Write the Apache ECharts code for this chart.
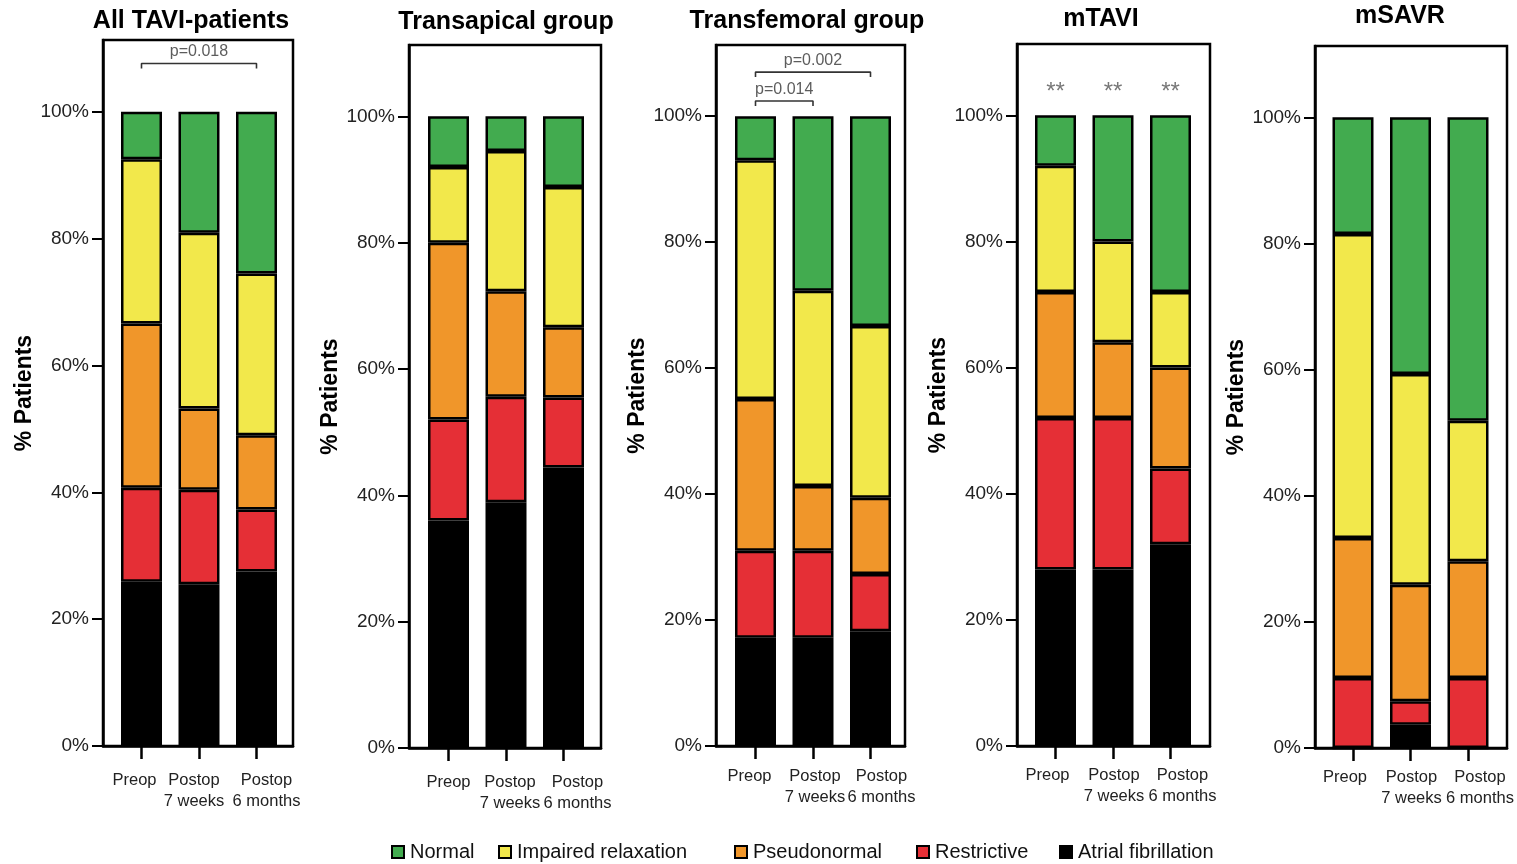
<!DOCTYPE html>
<html>
<head>
<meta charset="utf-8">
<title>Diastolic function grades</title>
<script src="https://cdn.jsdelivr.net/npm/echarts@6/dist/echarts.min.js"></script>
<style>
  html, body { margin: 0; padding: 0; background: #fff; }
  #chart { width: 1517px; height: 864px; }
</style>
</head>
<body>
<div id="chart"></div>
<script>
// Time points on each panel's x axis
const categories = ['Preop', 'Postop\n7 weeks', 'Postop\n6 months'];
// Diastolic function grades, stacked bottom to top
const statusNames = ['Atrial fibrillation', 'Restrictive', 'Pseudonormal', 'Impaired relaxation', 'Normal'];
const legendOrder = ['Normal', 'Impaired relaxation', 'Pseudonormal', 'Restrictive', 'Atrial fibrillation'];
const statusColors = ['#000000', '#e52f36', '#f0962a', '#f2e84b', '#42ab4f'];
const panelTitles = ['All TAVI-patients', 'Transapical group', 'Transfemoral group', 'mTAVI', 'mSAVR'];
const yTickValues = [0, 20, 40, 60, 80, 100];

// % of patients per grade (Preop, 7 weeks, 6 months)
const allTaviAF = [25.9, 25.5, 27.5];
const allTaviRestrictive = [14.8, 14.9, 9.8];
const allTaviPseudonormal = [25.9, 12.8, 11.7];
const allTaviImpaired = [25.9, 27.7, 25.5];
const allTaviNormal = [7.5, 19.1, 25.5];

const transapicalAF = [36.0, 38.9, 44.4];
const transapicalRestrictive = [16.0, 16.7, 11.1];
const transapicalPseudonormal = [28.0, 16.7, 11.1];
const transapicalImpaired = [12.0, 22.2, 22.2];
const transapicalNormal = [8.0, 5.5, 11.2];

const transfemoralAF = [17.2, 17.2, 18.2];
const transfemoralRestrictive = [13.8, 13.8, 9.1];
const transfemoralPseudonormal = [24.1, 10.3, 12.1];
const transfemoralImpaired = [37.9, 31.0, 27.3];
const transfemoralNormal = [7.0, 27.7, 33.3];

const mTaviAF = [28, 28, 32];
const mTaviRestrictive = [24, 24, 12];
const mTaviPseudonormal = [20, 12, 16];
const mTaviImpaired = [20, 16, 12];
const mTaviNormal = [8, 20, 28];

const mSavrAF = [0, 3.7, 0];
const mSavrRestrictive = [11.1, 3.7, 11.1];
const mSavrPseudonormal = [22.2, 18.5, 18.5];
const mSavrImpaired = [48.2, 33.4, 22.3];
const mSavrNormal = [18.5, 40.7, 48.1];

const panelValues = [
  [allTaviAF, allTaviRestrictive, allTaviPseudonormal, allTaviImpaired, allTaviNormal],
  [transapicalAF, transapicalRestrictive, transapicalPseudonormal, transapicalImpaired, transapicalNormal],
  [transfemoralAF, transfemoralRestrictive, transfemoralPseudonormal, transfemoralImpaired, transfemoralNormal],
  [mTaviAF, mTaviRestrictive, mTaviPseudonormal, mTaviImpaired, mTaviNormal],
  [mSavrAF, mSavrRestrictive, mSavrPseudonormal, mSavrImpaired, mSavrNormal]
];

// Significance brackets: panel, from category, to category, bracket height (%), label
const bracketPanels = [0, 2, 2];
const bracketFrom = [0, 0, 0];
const bracketTo = [2, 2, 1];
const bracketLevels = [107.6, 107.0, 102.4];
const bracketLabels = ['p=0.018', 'p=0.002', 'p=0.014'];
// Significance stars above each mTAVI bar
const starLabels = ['**', '**', '**'];

// Panel geometry: outer frame, band of the first bar, label nudges
const layout = [
  { left: 103,  top: 40, width: 190, height: 706, barLeft: 112.75,  titleX: 191,  titleY: 21, nameGap: 61, labelMargin: 24, labelShift: [-7, -5, 10] },
  { left: 409,  top: 45, width: 192, height: 703, barLeft: 419.75,  titleX: 506,  titleY: 22, nameGap: 54, labelMargin: 24, labelShift: [0, 4, 14] },
  { left: 716,  top: 45, width: 189, height: 701, barLeft: 726.75,  titleX: 807,  titleY: 21, nameGap: 65, labelMargin: 20, labelShift: [-6, 2, 11] },
  { left: 1017, top: 44, width: 193, height: 702, barLeft: 1026.75, titleX: 1101, titleY: 19, nameGap: 66, labelMargin: 19, labelShift: [-8, 1, 12] },
  { left: 1315, top: 46, width: 192, height: 702, barLeft: 1324.25, titleX: 1400, titleY: 16, nameGap: 56, labelMargin: 19, labelShift: [-8, 1, 12] }
];
const BAND = 57.5;
const legendLefts = [386, 493, 729, 911, 1054];

const FONT = '"Liberation Sans", Arial, sans-serif';
const Y_MAX = 111.3;

const grids = [], xAxes = [], yAxes = [], series = [], graphics = [];

layout.forEach((L, i) => {
  const frameIdx = 2 * i;      // framed grid: y axis, bottom line, annotations
  const barIdx = 2 * i + 1;    // inner grid: category axis and stacked bars

  grids.push({
    left: L.left, top: L.top, width: L.width, height: L.height,
    show: true, borderColor: '#000', borderWidth: 2.5, backgroundColor: 'transparent'
  });
  grids.push({
    left: L.barLeft, top: L.top, width: BAND * 3, height: L.height, show: false
  });

  // Frame x axis measured in category units, so annotations line up with bars
  const firstCenter = L.barLeft + BAND / 2;
  const xMin = -(firstCenter - L.left) / BAND;
  const xMax = 2 + (L.left + L.width - (firstCenter + 2 * BAND)) / BAND;
  xAxes.push({
    type: 'value', gridIndex: frameIdx, min: xMin, max: xMax,
    axisLine: { show: true, onZero: false, lineStyle: { color: '#000', width: 2.5 } },
    axisTick: { show: false }, axisLabel: { show: false }, splitLine: { show: false }
  });
  xAxes.push({
    type: 'category', gridIndex: barIdx,
    data: categories.map((c, k) => {
      const s = L.labelShift[k];
      return { value: c, textStyle: { padding: s >= 0 ? [0, 0, 0, 2 * s] : [0, -2 * s, 0, 0] } };
    }),
    axisLine: { show: false, onZero: false },
    axisTick: { show: true, alignWithLabel: true, length: 13, lineStyle: { color: '#000', width: 2.5 } },
    axisLabel: {
      interval: 0, margin: L.labelMargin, fontSize: 16.5, lineHeight: 21,
      color: '#222', fontFamily: FONT
    },
    splitLine: { show: false }
  });

  yAxes.push({
    type: 'value', gridIndex: frameIdx, min: 0, max: Y_MAX,
    axisLine: { show: true, onZero: false, lineStyle: { color: '#000', width: 2.5 } },
    axisTick: { show: true, customValues: yTickValues, length: 11, lineStyle: { color: '#000', width: 2 } },
    axisLabel: {
      customValues: yTickValues, margin: 14, fontSize: 19, color: '#222', fontFamily: FONT,
      formatter: v => Math.round(v) + '%'
    },
    splitLine: { show: false },
    name: '% Patients', nameLocation: 'middle', nameRotate: 90, nameGap: L.nameGap,
    nameTextStyle: { fontFamily: FONT, fontWeight: 'bold', fontSize: 23, color: '#000' }
  });
  yAxes.push({
    type: 'value', gridIndex: barIdx, min: 0, max: Y_MAX, show: false
  });

  panelValues[i].forEach((vals, j) => {
    series.push({
      type: 'bar', name: statusNames[j], xAxisIndex: barIdx, yAxisIndex: barIdx,
      stack: 'panel' + i, barWidth: 41, silent: true,
      data: vals,
      itemStyle: { color: statusColors[j], borderColor: '#000', borderWidth: 2.5 }
    });
  });

  graphics.push({
    type: 'text', x: L.titleX, y: L.titleY,
    style: {
      text: panelTitles[i], align: 'center', verticalAlign: 'middle',
      font: 'bold 25px ' + FONT, fill: '#000'
    }
  });
});

// Brackets with p-values (drawn on the framed grid)
bracketPanels.forEach((p, b) => {
  const top = bracketLevels[b];
  const foot = top - 0.8;
  const ax = 2 * p;
  series.push({
    type: 'line', xAxisIndex: ax, yAxisIndex: ax, symbol: 'none', silent: true, z: 5,
    data: [[bracketFrom[b], foot], [bracketFrom[b], top], [bracketTo[b], top], [bracketTo[b], foot]],
    lineStyle: { color: '#333', width: 1.6 }
  });
  series.push({
    type: 'scatter', xAxisIndex: ax, yAxisIndex: ax, silent: true, symbolSize: 1, z: 5,
    itemStyle: { color: 'rgba(0,0,0,0)' },
    data: [[(bracketFrom[b] + bracketTo[b]) / 2, top + 1.8]],
    label: {
      show: true, position: 'inside', formatter: bracketLabels[b],
      fontSize: 16, color: '#333', fontFamily: FONT
    }
  });
});

// Stars over the mTAVI bars
series.push({
  type: 'scatter', xAxisIndex: 6, yAxisIndex: 6, silent: true, symbolSize: 1, z: 5,
  itemStyle: { color: 'rgba(0,0,0,0)' },
  data: starLabels.map((s, k) => ({ value: [k, 103.7], label: { formatter: s } })),
  label: { show: true, position: 'inside', fontSize: 24, color: '#555', fontFamily: FONT }
});

// One legend entry per grade, spaced as in the figure footer
const legends = legendOrder.map((name, k) => ({
  data: [name], left: legendLefts[k], top: 837, selectedMode: false,
  icon: 'rect', itemWidth: 12, itemHeight: 12,
  itemStyle: { borderColor: '#000', borderWidth: 2 },
  textStyle: { fontFamily: FONT, fontSize: 20, color: '#111', padding: [0, 0, 0, 1] }
}));

const chart = echarts.init(document.getElementById('chart'), null, { renderer: 'canvas' });
chart.setOption({
  animation: false,
  backgroundColor: '#fff',
  grid: grids,
  xAxis: xAxes,
  yAxis: yAxes,
  series: series,
  graphic: graphics,
  legend: legends
});
</script>
</body>
</html>
